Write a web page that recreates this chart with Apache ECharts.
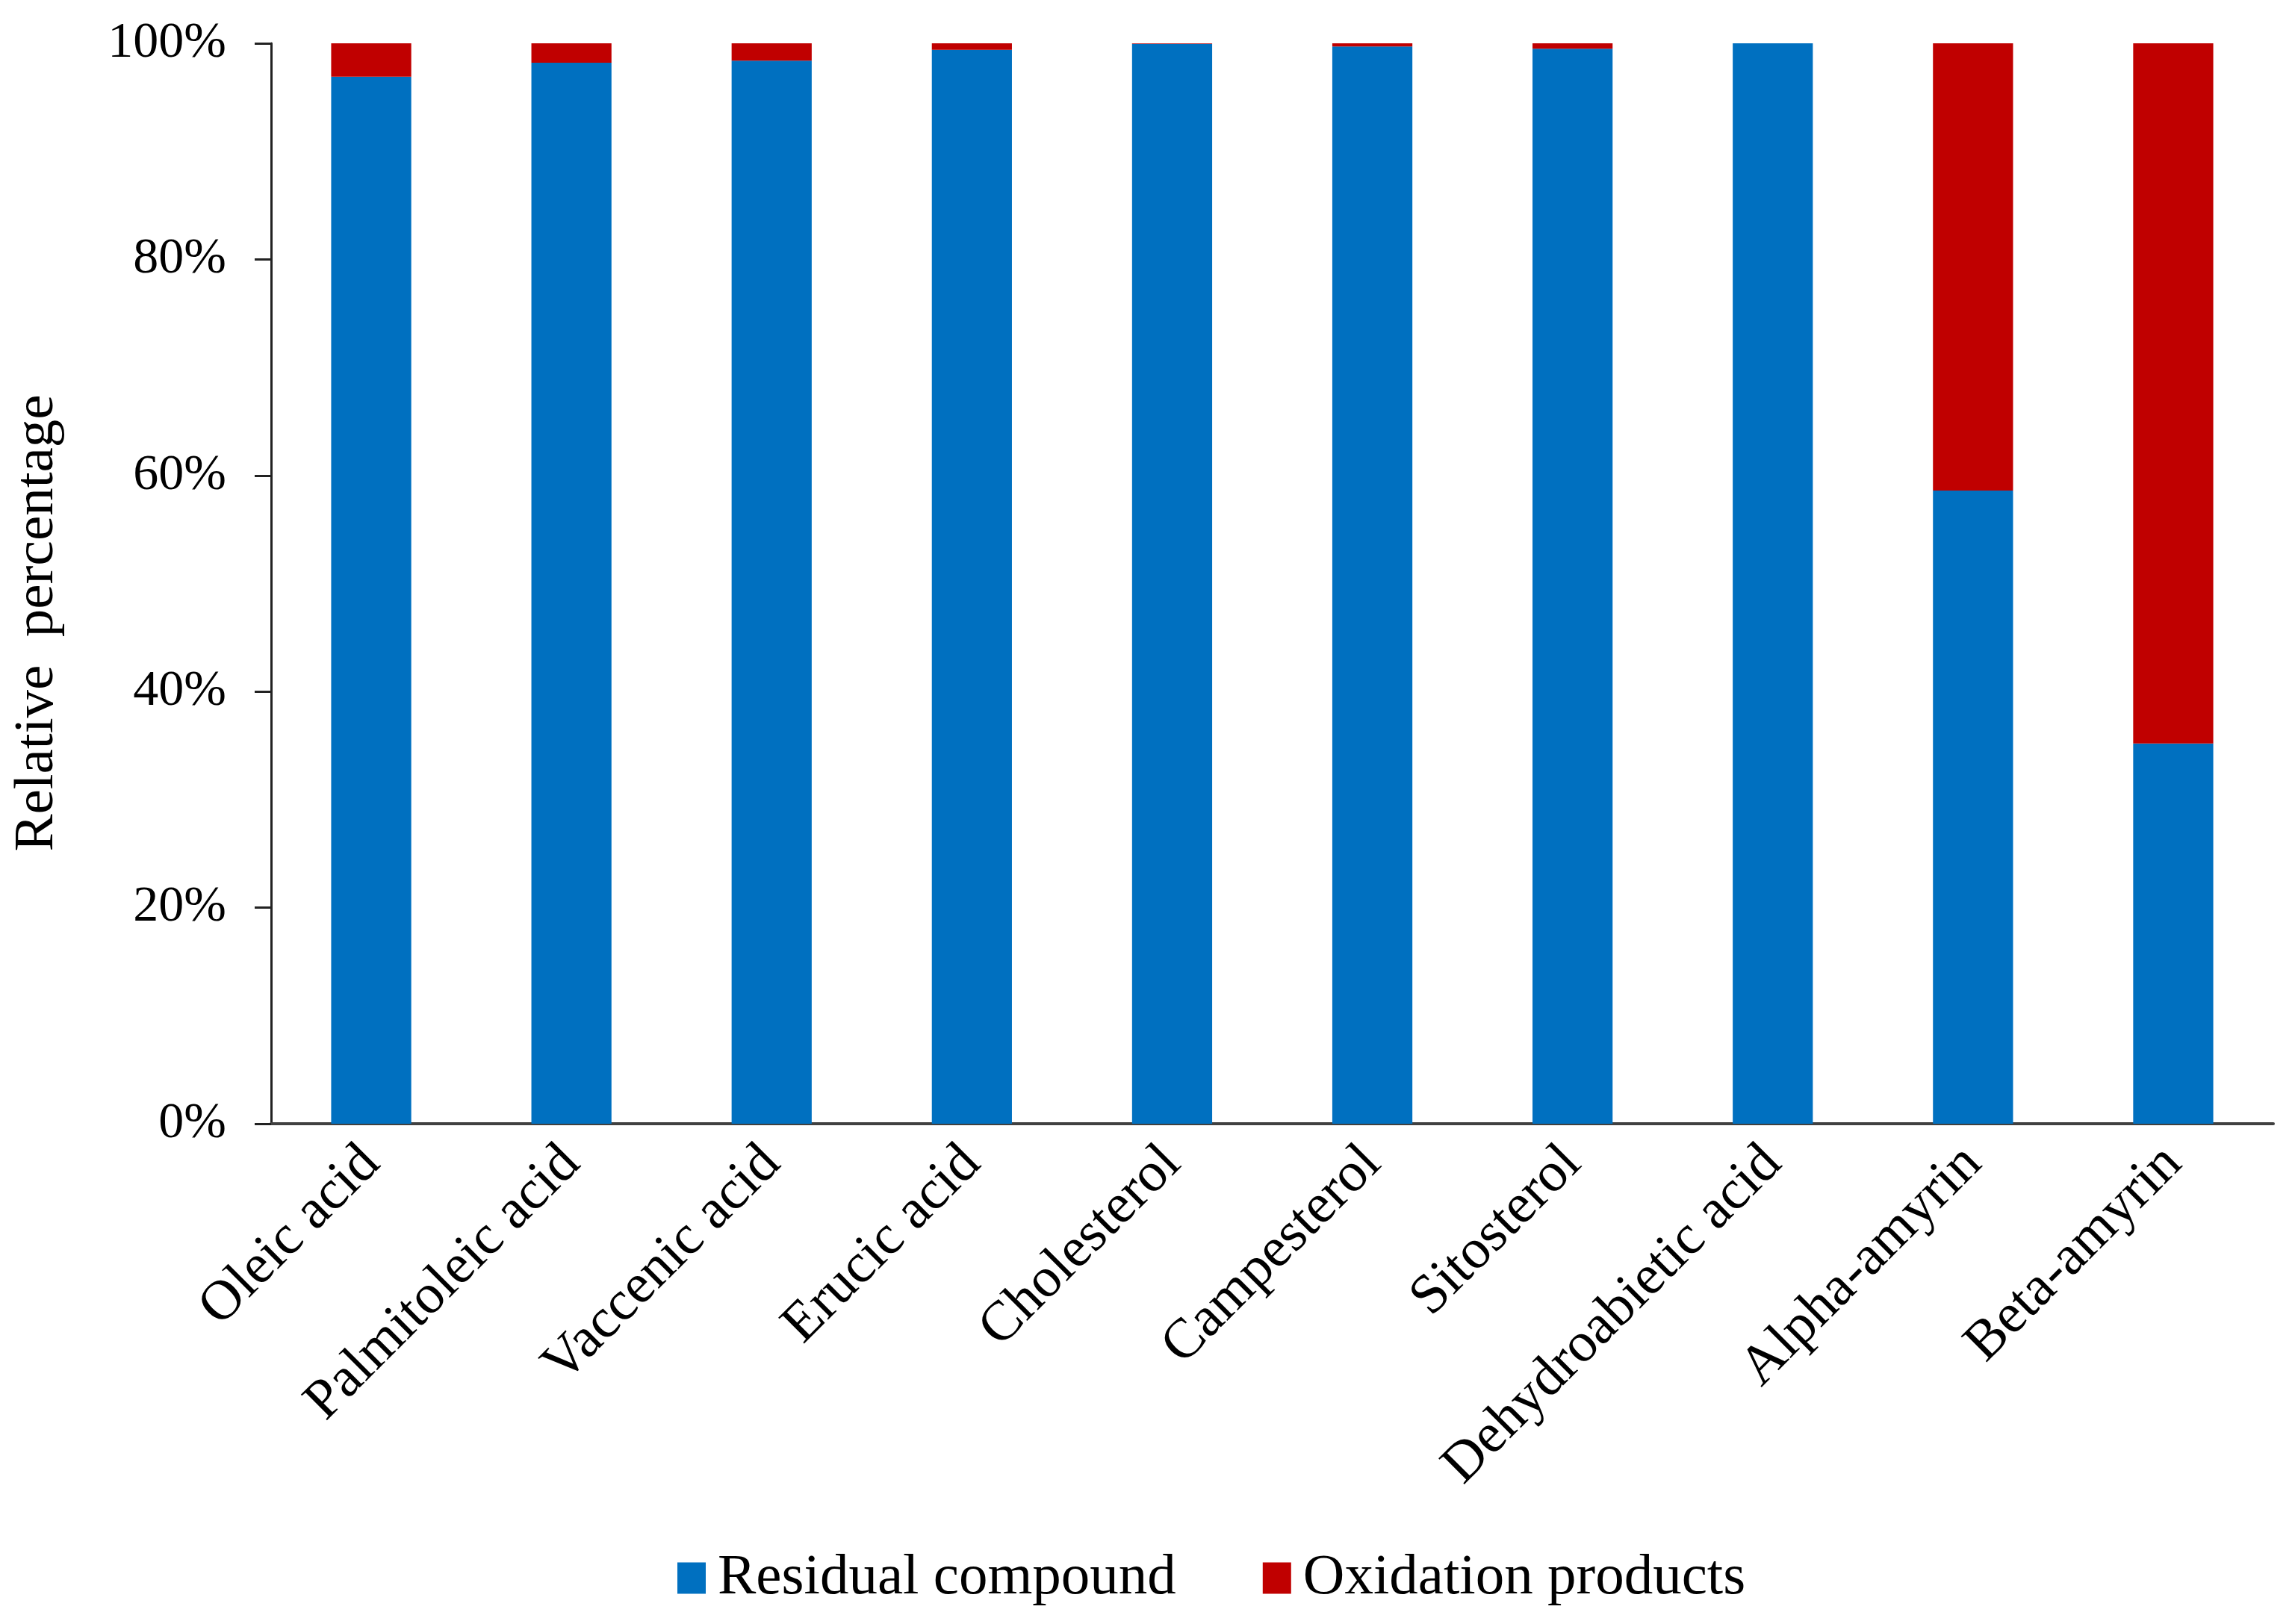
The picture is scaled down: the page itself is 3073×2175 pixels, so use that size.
<!DOCTYPE html>
<html>
<head>
<meta charset="utf-8">
<script src="https://cdn.jsdelivr.net/npm/echarts@6/dist/echarts.min.js"></script>
<style>
html,body{margin:0;padding:0;background:#fff;}
#chart{width:3073px;height:2175px;}
</style>
</head>
<body>
<div id="chart"></div>
<script>
const categories = ["Oleic acid","Palmitoleic acid","Vaccenic acid","Erucic acid","Cholesterol","Campesterol","Sitosterol","Dehydroabietic acid","Alpha-amyrin","Beta-amyrin"];
const residual = [96.9, 98.2, 98.4, 99.4, 99.95, 99.7, 99.5, 100, 58.6, 35.2];
const oxidation = [3.1, 1.8, 1.6, 0.6, 0.05, 0.3, 0.5, 0, 41.4, 64.8];
const yTicks = [0, 20, 40, 60, 80, 100];

const font = "'Liberation Serif', 'Times New Roman', serif";
const chart = echarts.init(document.getElementById('chart'));
chart.setOption({
  animation: false,
  backgroundColor: '#ffffff',
  textStyle: { fontFamily: font, color: '#000' },
  grid: { left: 363, right: 29, top: 58, bottom: 670, containLabel: false },
  legend: {
    bottom: 18,
    left: 902,
    itemWidth: 38,
    itemHeight: 42,
    itemGap: 116,
    icon: 'rect',
    textStyle: { fontFamily: font, fontSize: 77, color: '#000', padding: [0, 0, 0, 11] },
    data: ['Residual compound', 'Oxidation products']
  },
  xAxis: {
    type: 'category',
    data: categories,
    axisLine: { show: true, lineStyle: { color: '#404040', width: 4 } },
    axisTick: { show: false },
    axisLabel: { rotate: 45, margin: 42, fontFamily: font, fontSize: 75, color: '#000', interval: 0 },
    splitLine: { show: false }
  },
  yAxis: {
    type: 'value',
    min: yTicks[0],
    max: yTicks[yTicks.length - 1],
    interval: 20,
    name: 'Relative  percentage',
    nameLocation: 'middle',
    nameGap: 275,
    nameTextStyle: { fontFamily: font, fontSize: 75, color: '#000', padding: [0, 106, 0, 0] },
    axisLine: { show: true, lineStyle: { color: '#222', width: 3 } },
    axisTick: { show: true, inside: false, length: 22, lineStyle: { color: '#222', width: 3 } },
    axisLabel: { formatter: '{value}%', margin: 60, fontFamily: font, fontSize: 68, color: '#000' },
    splitLine: { show: false }
  },
  series: [
    {
      name: 'Residual compound',
      type: 'bar',
      stack: 'total',
      barWidth: '40%',
      data: residual,
      itemStyle: { color: '#0070C0' }
    },
    {
      name: 'Oxidation products',
      type: 'bar',
      stack: 'total',
      barWidth: '40%',
      data: oxidation,
      itemStyle: { color: '#C00000' }
    }
  ]
});
</script>
</body>
</html>
